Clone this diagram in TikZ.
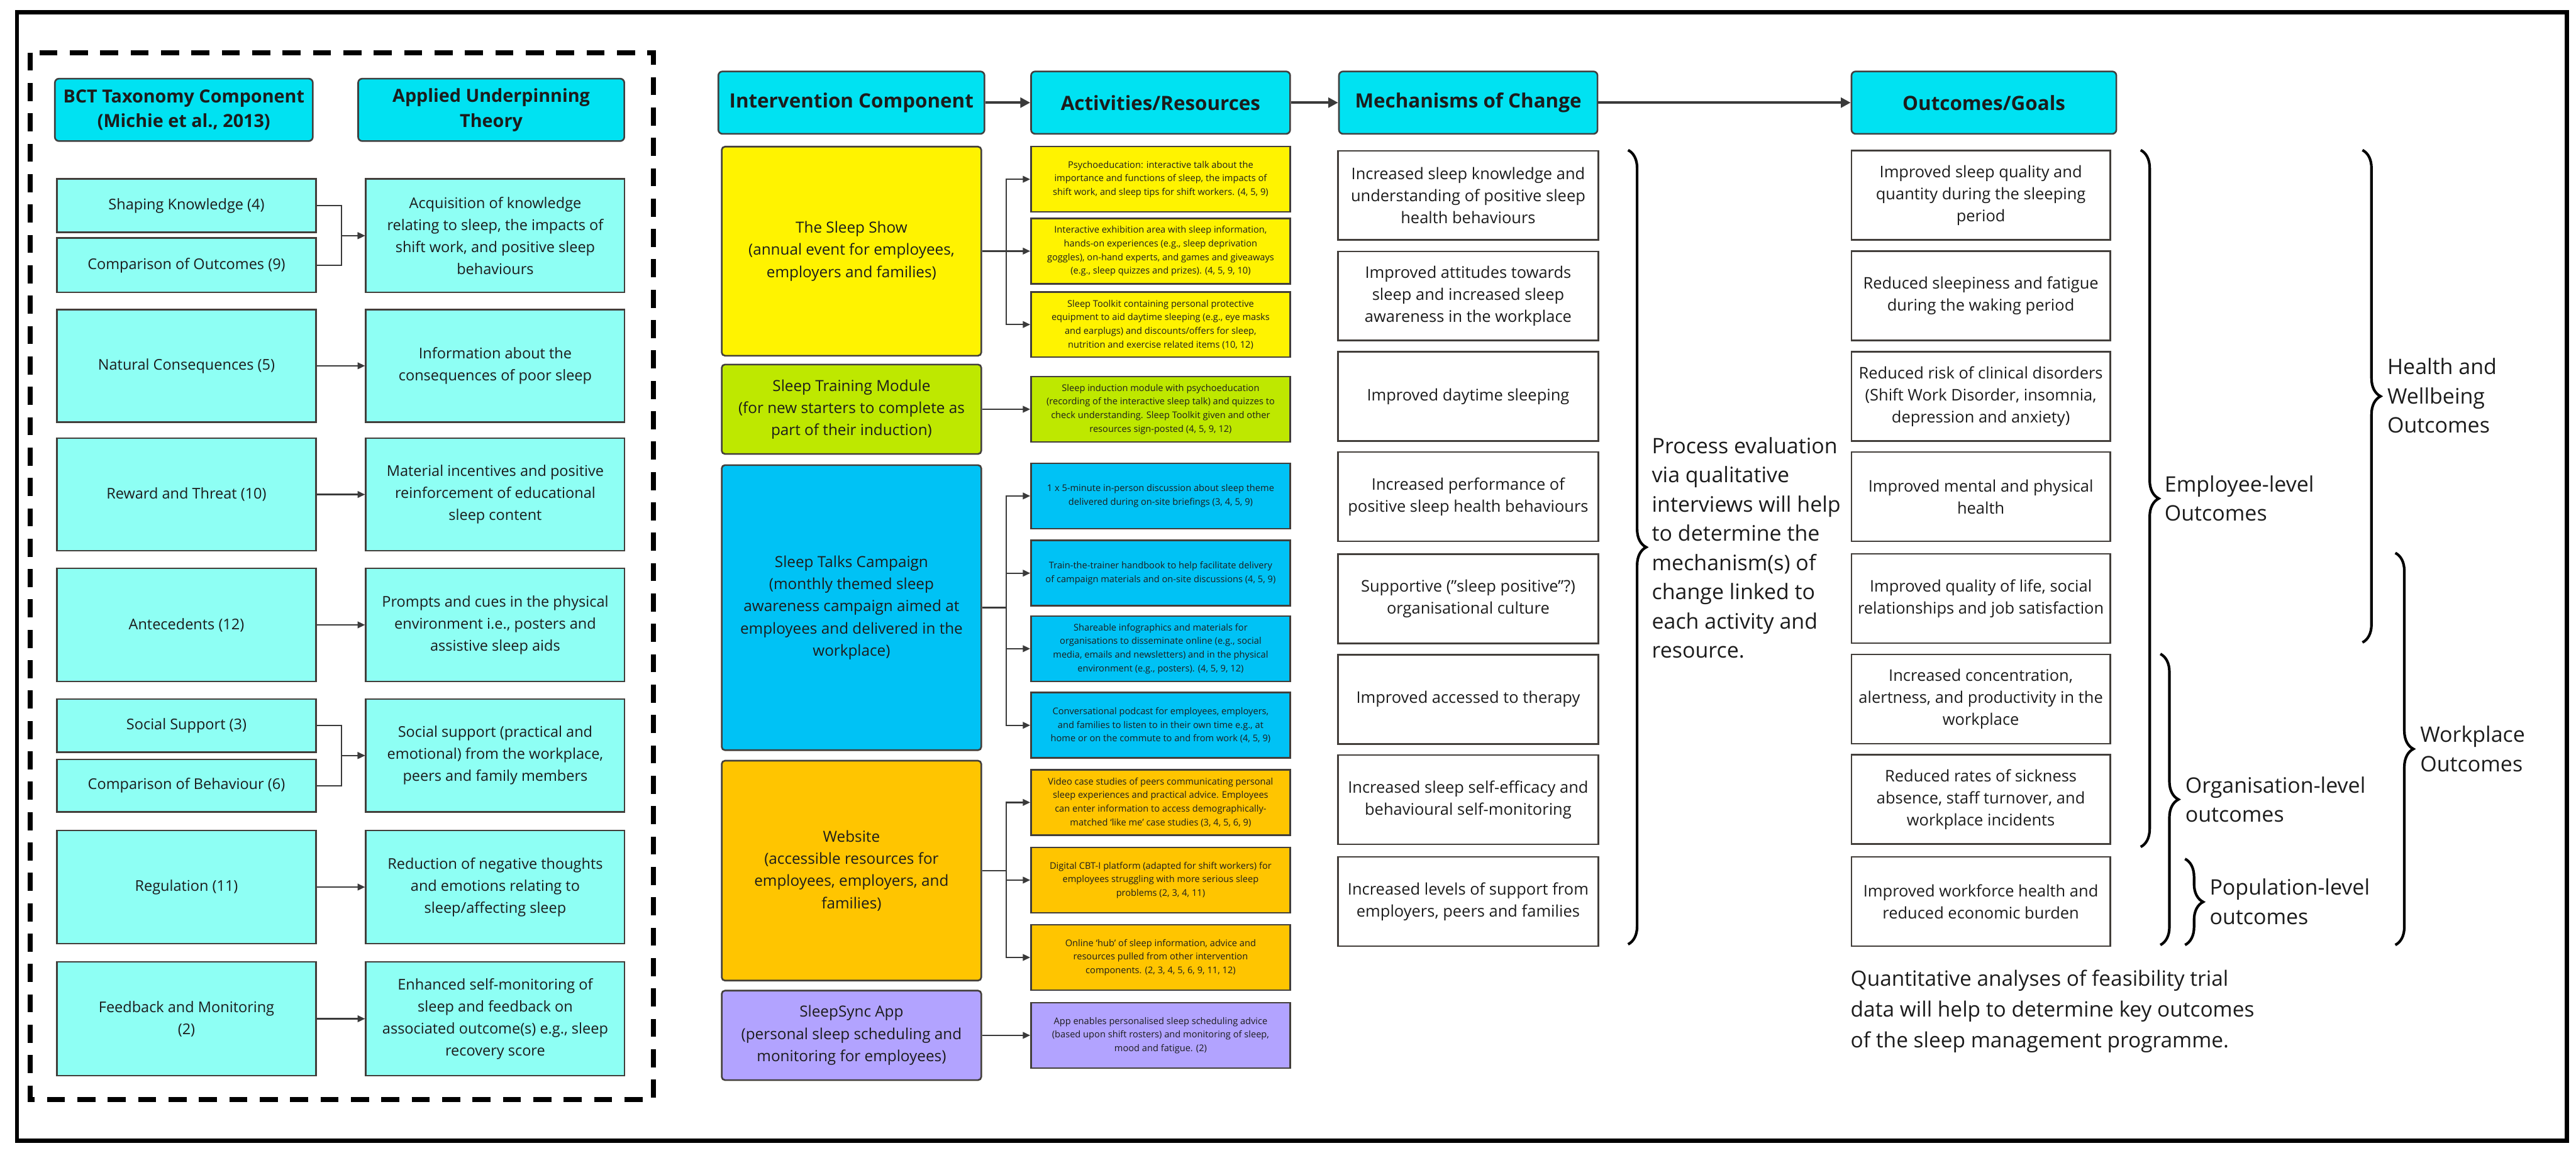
\documentclass[tikz,border=0pt]{standalone}
\usepackage{fontspec}
\setmainfont{Open Sans}
\usetikzlibrary{arrows.meta,decorations.pathreplacing}

\definecolor{cian}{RGB}{0,226,242}
\definecolor{aguamar}{RGB}{142,255,244}
\definecolor{amarillo}{RGB}{255,243,0}
\definecolor{lima}{RGB}{190,232,0}
\definecolor{azul}{RGB}{0,194,245}
\definecolor{ambar}{RGB}{255,197,0}
\definecolor{lila}{RGB}{178,163,255}
\definecolor{borde}{RGB}{66,62,58}
\definecolor{flecha}{RGB}{58,58,58}
\definecolor{texto}{RGB}{28,28,28}

\tikzset{
  caja/.style={draw=borde, line width=1pt, align=center, inner sep=2pt, text=texto},
  cabecera/.style={caja, fill=cian, draw=black!75, rounded corners=2.5pt, minimum height=38pt,
    font=\bfseries\fontsize{12}{15}\selectfont},
  cabizq/.style={cabecera, font=\bfseries\fontsize{11}{15.2}\selectfont},
  tecnica/.style={caja, fill=aguamar, minimum width=157.5pt, font=\fontsize{9}{13.4}\selectfont},
  componente/.style={caja, rounded corners=2pt, minimum width=158pt, font=\fontsize{9.3}{13.5}\selectfont},
  actividad/.style={caja, minimum width=157.7pt, minimum height=39.8pt, inner sep=1pt,
    font=\fontsize{5.6}{8.3}\selectfont},
  resultado/.style={caja, fill=white, minimum height=54.3pt, font=\fontsize{9.75}{13.4}\selectfont},
  etiqueta/.style={anchor=west, inner sep=0pt, align=left, text=texto, font=\fontsize{13}{17.8}\selectfont},
  enlace/.style={draw=flecha, line width=0.9pt, -{Triangle[length=4.5pt,width=4pt]}},
  flechacab/.style={draw=flecha, line width=1.5pt, -{Triangle[length=6pt,width=6pt]}},
  llave/.style={draw=black, line width=1.6pt, decorate, decoration={brace, amplitude=11pt}}
}

\begin{document}
\begin{tikzpicture}[x=1pt,y=-1pt]
        \path[use as bounding box, fill=white] (0,0) rectangle (1568,705);

        % Marcos
        \draw[line width=2.6pt] (10.3,7.6) rectangle (1562.4,694.5);
        \draw[line width=3pt, dash pattern=on 11pt off 7.5pt] (18.5,32) rectangle (397.6,669.4);

        % Panel BCT
        \node[cabizq, minimum width=157pt] (hbct) at (111.9,66.9) {BCT Taxonomy Component\\(Michie et al., 2013)};
        \node[cabizq, minimum width=162pt] (hteoria) at (299,66.9) {Applied Underpinning\\Theory};

        \node[tecnica, minimum height=32.4pt] (sk) at (113.5,125.2) {Shaping Knowledge (4)};
        \node[tecnica, minimum height=33pt] (co) at (113.5,161.5) {Comparison of Outcomes (9)};
        \node[tecnica, minimum height=68.6pt] (nc) at (113.5,222.75) {Natural Consequences (5)};
        \node[tecnica, minimum height=68.6pt] (rt) at (113.5,301.1) {Reward and Threat (10)};
        \node[tecnica, minimum height=69pt] (an) at (113.5,380.5) {Antecedents (12)};
        \node[tecnica, minimum height=32.3pt] (so) at (113.5,441.85) {Social Support (3)};
        \node[tecnica, minimum height=32pt] (cb) at (113.5,478.4) {Comparison of Behaviour (6)};
        \node[tecnica, minimum height=69pt] (rg) at (113.5,540.15) {Regulation (11)};
        \node[tecnica, minimum height=69.3pt] (fm) at (113.5,620.35) {Feedback and Monitoring\\(2)};

        \node[tecnica, minimum height=69pt] (t1) at (301.45,143.5) {Acquisition of knowledge\\relating to sleep, the impacts of\\shift work, and positive sleep\\behaviours};
        \node[tecnica, minimum height=68.6pt] (t2) at (301.45,222.75) {Information about the\\consequences of poor sleep};
        \node[tecnica, minimum height=68.6pt] (t3) at (301.45,301.1) {Material incentives and positive\\reinforcement of educational\\sleep content};
        \node[tecnica, minimum height=69pt] (t4) at (301.45,380.5) {Prompts and cues in the physical\\environment i.e., posters and\\assistive sleep aids};
        \node[tecnica, minimum height=68.7pt] (t5) at (301.45,460.05) {Social support (practical and\\emotional) from the workplace,\\peers and family members};
        \node[tecnica, minimum height=69pt] (t6) at (301.45,540.15) {Reduction of negative thoughts\\and emotions relating to\\sleep/affecting sleep};
        \node[tecnica, minimum height=69.3pt] (t7) at (301.45,620.35) {Enhanced self-monitoring of\\sleep and feedback on\\associated outcome(s) e.g., sleep\\recovery score};

        \foreach \a in {sk,co}
            \draw[enlace] (\a.east) -- ++(15,0) |- (t1.west);
        \foreach \a in {so,cb}
            \draw[enlace] (\a.east) -- ++(15,0) |- (t5.west);
        \foreach \a/\b in {nc/t2, rt/t3, an/t4, rg/t6, fm/t7}
            \draw[enlace] (\a) -- (\b);

        % Cabeceras del modelo
        \node[cabecera, minimum width=162pt] (hcomp) at (518.25,62.5) {Intervention Component};
        \node[cabecera, minimum width=157.7pt] (hact) at (706.45,62.5) {Activities/Resources};
        \node[cabecera, minimum width=157.4pt] (hmec) at (893.7,62.5) {Mechanisms of Change};
        \node[cabecera, minimum width=161.2pt] (hres) at (1207.6,62.5) {Outcomes/Goals};
        \draw[flechacab] (hcomp) -- (hact);
        \draw[flechacab] (hact) -- (hmec);
        \draw[flechacab] (hmec) -- (hres);

        % Componentes de la intervencion
        \node[componente, fill=amarillo, minimum height=127.3pt] (show) at (518.3,152.95) {The Sleep Show\\(annual event for employees,\\employers and families)};
        \node[componente, fill=lima, minimum height=54.5pt] (modulo) at (518.3,249.2) {Sleep Training Module\\(for new starters to complete as\\part of their induction)};
        \node[componente, fill=azul, minimum height=173.6pt] (charlas) at (518.3,370) {Sleep Talks Campaign\\(monthly themed sleep\\awareness campaign aimed at\\employees and delivered in the\\workplace)};
        \node[componente, fill=ambar, minimum height=133.9pt] (web) at (518.3,530.15) {Website\\(accessible resources for\\employees, employers, and\\families)};
        \node[componente, fill=lila, minimum height=54.5pt] (app) at (518.3,630.45) {SleepSync App\\(personal sleep scheduling and\\monitoring for employees)};

        % Actividades y recursos
        \node[actividad, fill=amarillo] (a1) at (706.45,109.15) {Psychoeducation: interactive talk about the\\importance and functions of sleep, the impacts of\\shift work, and sleep tips for shift workers. (4, 5, 9)};
        \node[actividad, fill=amarillo] (a2) at (706.45,152.9) {Interactive exhibition area with sleep information,\\hands-on experiences (e.g., sleep deprivation\\goggles), on-hand experts, and games and giveaways\\(e.g., sleep quizzes and prizes). (4, 5, 9, 10)};
        \node[actividad, fill=amarillo] (a3) at (706.45,197.6) {Sleep Toolkit containing personal protective\\equipment to aid daytime sleeping (e.g., eye masks\\and earplugs) and discounts/offers for sleep,\\nutrition and exercise related items (10, 12)};
        \node[actividad, fill=lima] (a4) at (706.45,249.2) {Sleep induction module with psychoeducation\\(recording of the interactive sleep talk) and quizzes to\\check understanding. Sleep Toolkit given and other\\resources sign-posted (4, 5, 9, 12)};
        \node[actividad, fill=azul] (a5) at (706.45,302) {1 x 5-minute in-person discussion about sleep theme\\delivered during on-site briefings (3, 4, 5, 9)};
        \node[actividad, fill=azul] (a6) at (706.45,349) {Train-the-trainer handbook to help facilitate delivery\\of campaign materials and on-site discussions (4, 5, 9)};
        \node[actividad, fill=azul] (a7) at (706.45,395) {Shareable infographics and materials for\\organisations to disseminate online (e.g., social\\media, emails and newsletters) and in the physical\\environment (e.g., posters). (4, 5, 9, 12)};
        \node[actividad, fill=azul] (a8) at (706.45,441.65) {Conversational podcast for employees, employers,\\and families to listen to in their own time e.g., at\\home or on the commute to and from work (4, 5, 9)};
        \node[actividad, fill=ambar] (a9) at (706.45,488.6) {Video case studies of peers communicating personal\\sleep experiences and practical advice. Employees\\can enter information to access demographically-\\matched `like me' case studies (3, 4, 5, 6, 9)};
        \node[actividad, fill=ambar] (a10) at (706.45,535.9) {Digital CBT-I platform (adapted for shift workers) for\\employees struggling with more serious sleep\\problems (2, 3, 4, 11)};
        \node[actividad, fill=ambar] (a11) at (706.45,583) {Online `hub' of sleep information, advice and\\resources pulled from other intervention\\components. (2, 3, 4, 5, 6, 9, 11, 12)};
        \node[actividad, fill=lila] (a12) at (706.45,630.45) {App enables personalised sleep scheduling advice\\(based upon shift rosters) and monitoring of sleep,\\mood and fatigue. (2)};

        \foreach \t in {a1,a2,a3}
            \draw[enlace] (show.east) -- ++(14.7,0) |- (\t.west);
        \foreach \t in {a5,a6,a7,a8}
            \draw[enlace] (charlas.east) -- ++(14.7,0) |- (\t.west);
        \foreach \t in {a9,a10,a11}
            \draw[enlace] (web.east) -- ++(14.7,0) |- (\t.west);
        \draw[enlace] (modulo) -- (a4);
        \draw[enlace] (app) -- (a12);

        % Mecanismos de cambio
        \foreach \y/\txt [count=\i] in {
            119/{Increased sleep knowledge and\\understanding of positive sleep\\health behaviours},
            180.2/{Improved attitudes towards\\sleep and increased sleep\\awareness in the workplace},
            241.4/{Improved daytime sleeping},
            302.4/{Increased performance of\\positive sleep health behaviours},
            364.6/{Supportive ("sleep positive"?)\\organisational culture},
            425.8/{Improved accessed to therapy},
            486.9/{Increased sleep self-efficacy and\\behavioural self-monitoring},
            548.9/{Increased levels of support from\\employers, peers and families}}
            \node[resultado, minimum width=158.5pt] (m\i) at (893.65,\y) {\txt};

        % Resultados
        \foreach \y/\txt [count=\i] in {
            118.9/{Improved sleep quality and\\quantity during the sleeping\\period},
            180.1/{Reduced sleepiness and fatigue\\during the waking period},
            241.3/{Reduced risk of clinical disorders\\(Shift Work Disorder, insomnia,\\depression and anxiety)},
            302.4/{Improved mental and physical\\health},
            364.4/{Improved quality of life, social\\relationships and job satisfaction},
            425.7/{Increased concentration,\\alertness, and productivity in the\\workplace},
            486.8/{Reduced rates of sickness\\absence, staff turnover, and\\workplace incidents},
            548.9/{Improved workforce health and\\reduced economic burden}}
            \node[resultado, minimum width=157.4pt] (o\i) at (1205.7,\y) {\txt};

        % Llaves y textos
        \draw[llave] (991,91.4) -- (991,575);
        \node[etiqueta] (proceso) at (1005.3,333.6) {Process evaluation\\via qualitative\\interviews will help\\to determine the\\mechanism(s) of\\change linked to\\each activity and\\resource.};

        \draw[llave] (1303,91.4) -- (1303,515.7);
        \draw[llave] (1438,91.4) -- (1438,391.2);
        \draw[llave] (1315,398.2) -- (1315,575.4);
        \draw[llave] (1330,523) -- (1330,575.4);
        \draw[llave] (1458,336.7) -- (1458,575.4);
        \node[etiqueta] (empleado) at (1317.4,303.4) {Employee-level\\Outcomes};
        \node[etiqueta] (salud) at (1453,241) {Health and\\Wellbeing\\Outcomes};
        \node[etiqueta] (organizacion) at (1330,486.8) {Organisation-level\\outcomes};
        \node[etiqueta] (poblacion) at (1344.8,549) {Population-level\\outcomes};
        \node[etiqueta] (trabajo) at (1473,456) {Workplace\\Outcomes};

        \node[etiqueta, font=\fontsize{12.8}{18.6}\selectfont] (cuantitativo) at (1126.3,615.8) {Quantitative analyses of feasibility trial\\data will help to determine key outcomes\\of the sleep management programme.};
\end{tikzpicture}
\end{document}
